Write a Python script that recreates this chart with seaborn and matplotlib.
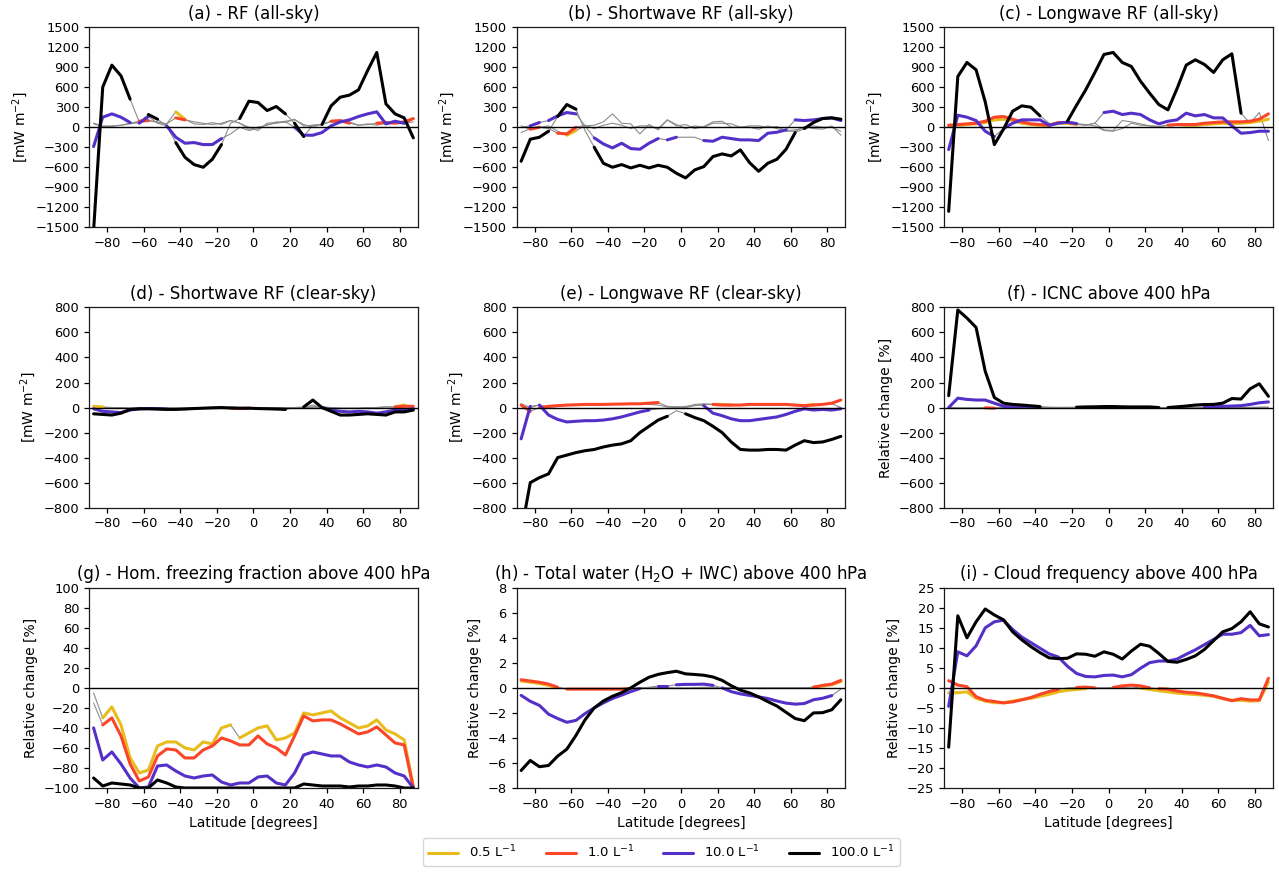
import numpy as np
import matplotlib
matplotlib.use('Agg')
import matplotlib.pyplot as plt
from matplotlib.lines import Line2D
import seaborn as sns

# latitude grid (degrees)
lat = np.arange(-87.5, 88, 5.0)

# (a) RF all-sky
a_05 = [60, 20, 20, 30, 50, 80, 100, 80, 50, 230, 120, 50, 40, 70, 40, 100, 60, 0,
        -50, 60, 70, 90, 110, 40, 0, 50, 80, 70, 80, 30, 50, 30, 60, 60, 50, 120]
a_1 = [50, 10, 10, 30, 60, 90, 100, 70, 50, 140, 110, 80, 60, 40, 60, 100, 60, -30,
       0, 30, 80, 70, 120, 20, 30, 40, 90, 100, 60, 30, 40, 60, 70, 60, 80, 130]
a_10 = [-290, 150, 200, 150, 70, 60, 160, 60, 20, -150, -240, -230, -260, -260, -170, -100, 0, -50,
        -20, 40, 60, 80, 0, -120, -120, -80, 20, 80, 110, 160, 200, 230, 50, 90, 60, 80]
a_100 = [-1550, 600, 930, 770, 420, 80, 190, 120, 20, -230, -450, -560, -600, -480, -260, 60, 130, 390,
         370, 250, 310, 200, 60, -140, 30, 40, 320, 450, 480, 560, 850, 1120, 350, 200, 140, -160]
a_05_sig = [(-41, -39)]
a_1_sig = [(-61, -59), (-41, -39), (44, 51), (70, 88)]
a_10_sig = [(-88, -66), (-61, -59), (-46, -16), (24, 41), (44, 83)]
a_100_sig = [(-88, -66), (-58, -52), (-43, -19), (-8, 19), (24, 26), (40, 88)]

# (b) shortwave RF all-sky
b_05 = [-80, -20, 0, 20, -60, -120, -50, 20, 30, 80, 200, 60, 50, -100, 40, -40, 110, 20,
        40, -20, 10, 80, 90, 0, 0, 0, -30, 20, -20, -60, -60, 10, -20, -30, 20, -120]
b_1 = [20, -30, 0, -20, -90, -100, 0, 30, -20, 30, 60, 30, -20, 20, 20, -20, 110, 40,
       -20, 20, 0, 60, 60, 50, 0, 20, 20, 0, 10, -50, -40, -10, 20, 0, 0, -60]
b_10 = [0, 20, 70, 100, 170, 220, 200, 20, -160, -250, -310, -240, -320, -330, -240, -170, -190, -150,
        -150, -150, -200, -210, -150, -170, -190, -190, -200, -90, -75, -40, 110, 100, 110, 130, 140, 100]
b_100 = [-510, -180, -150, -60, 160, 340, 270, -50, -300, -540, -600, -560, -610, -570, -610, -570, -600, -690,
         -760, -640, -590, -440, -400, -430, -340, -530, -660, -540, -480, -330, -80, -20, 70, 130, 140, 120]
b_05_sig = [(-61, -59)]
b_1_sig = [(-81, -79), (-66, -59)]
b_10_sig = [(-81, -79), (-71, -56), (-49, -11), (-6, -4), (14, 55), (61, 86)]
b_100_sig = [(-88, -74), (-69, -56), (-49, 61), (69, 86)]

# (c) longwave RF all-sky
c_05 = [20, 30, 40, 50, 70, 110, 120, 100, 60, 40, 30, 30, 60, 60, 40, 30, 60, -40,
        -50, 100, 80, 50, 20, 10, 30, 40, 30, 30, 40, 50, 60, 50, 60, 70, 90, 120]
c_1 = [30, 40, 50, 60, 90, 150, 160, 120, 80, 50, 40, 30, 70, 70, 50, 40, 20, -50,
       -60, -20, 60, 30, 20, 10, 30, 40, 40, 40, 60, 70, 80, 80, 80, 90, 120, 200]
c_10 = [-335, 180, 150, 100, -60, -140, -20, 60, 110, 110, 110, 30, 60, 75, 55, 30, 60, 220,
        240, 190, 210, 190, 110, 50, 90, 110, 210, 170, 190, 140, 140, 20, -90, -80, -60, -60]
c_100 = [-1260, 760, 970, 860, 380, -260, -30, 240, 320, 300, 170, 60, 40, 90, 330, 560, 820, 1090,
         1120, 970, 910, 690, 510, 340, 260, 580, 930, 1010, 940, 820, 1010, 1100, 210, 60, 220, -200]
c_05_sig = [(-88, -16), (40, 88)]
c_1_sig = [(-88, -16), (34, 88)]
c_10_sig = [(-88, -61), (-56, -19), (-4, 86)]
c_100_sig = [(-88, -39), (-24, 74)]

# (d) shortwave RF clear-sky
d_05 = [10, 5, 0, 0, -5, -5, -5, -5, -5, -5, -5, -3, -2, -2, 0, -2, -5, -8,
        -5, -3, -2, 0, 0, 0, 5, 5, 0, -5, -5, -5, 0, 0, 5, 5, 20, 10]
d_1 = [5, 0, 0, -3, -5, -5, -5, -5, -5, -5, -5, -3, -2, -2, 0, -5, -8, -5,
       -5, -3, -2, 0, 0, 0, 3, 3, 0, -5, -5, -5, 0, 0, 5, 5, 10, 10]
d_10 = [-10, -30, -35, -40, -20, -10, -8, -10, -12, -12, -10, -8, -5, -3, 0, -3, -5, -5,
        -5, -8, -8, -10, 0, 0, 20, 0, -20, -30, -35, -30, -35, -45, -35, -20, -20, -10]
d_100 = [-50, -55, -60, -45, -15, -10, -10, -12, -15, -15, -12, -8, -5, -2, 0, -3, -5, -5,
         -8, -10, -12, -15, 0, 5, 60, 0, -30, -60, -60, -55, -50, -55, -60, -35, -35, -20]
d_05_sig = [(-88, -84), (78, 82)]
d_1_sig = [(-11, -4), (79, 88)]
d_10_sig = [(-88, -50), (38, 88)]
d_100_sig = [(-88, 16), (29, 88)]

# (e) longwave RF clear-sky
e_05 = [30, 0, 20, 0, 10, 15, 18, 20, 20, 22, 24, 25, 25, 25, 25, 20, 5, 5,
        0, 25, 30, 25, 25, 20, 20, 20, 20, 20, 20, 20, 15, 15, 25, 25, 30, 0]
e_1 = [20, -30, 0, 10, 15, 20, 22, 25, 25, 25, 27, 28, 30, 30, 35, 40, 10, 5,
       0, 15, 25, 25, 20, 20, 20, 25, 25, 25, 25, 25, 20, 15, 20, 25, 35, 60]
e_10 = [-250, 10, 20, -60, -95, -115, -110, -105, -105, -100, -90, -75, -55, -35, -20, -10, -5, 0,
        10, 20, 15, -45, -65, -90, -105, -105, -95, -85, -75, -55, -30, -10, -20, -15, -20, -10]
e_100 = [-1000, -600, -560, -530, -400, -380, -360, -345, -335, -315, -300, -290, -265, -200, -150, -100, -70, -25,
         -50, -80, -105, -150, -200, -275, -335, -340, -340, -335, -335, -340, -300, -265, -280, -275, -255, -230]
e_05_sig = [(19, 26), (69, 71)]
e_1_sig = [(-86, -84), (-76, -14), (19, 88)]
e_10_sig = [(-86, -84), (-76, -19), (14, 86)]
e_100_sig = [(-88, -6), (1, 88)]

# (f) ICNC above 400 hPa
f_05 = [0, -5, -5, -5, -3, -2, -1, 0, 0, 0, 0, 0, 0, 0, 0, 0, 0, 0,
        0, 0, 0, 0, 0, 0, 0, 0, 0, 0, 0, 0, 0, 0, 1, 1, 2, 2]
f_1 = [0, -3, -3, -3, -2, -5, -2, 0, 0, 0, 0, 0, 0, 0, 0, 0, 0, 0,
       0, 0, 0, 0, 0, 0, 0, 0, 0, 0, 0, 0, 0, 0, 1, 1, 2, 3]
f_10 = [0, 75, 65, 60, 60, 35, 10, 5, 3, 2, 1, 0, 0, 0, 0, 1, 1, 2,
        2, 1, 1, 1, 0, 0, 0, 1, 2, 3, 4, 6, 10, 12, 15, 25, 38, 45]
f_100 = [95, 780, 715, 640, 290, 80, 35, 25, 20, 14, 8, 3, 2, 2, 3, 5, 6, 8,
         8, 6, 5, 5, 5, 0, 0, 6, 12, 20, 24, 25, 35, 72, 68, 150, 190, 90]
f_05_sig = []
f_1_sig = [(-66, -64)]
f_10_sig = [(-86, -40), (55, 88)]
f_100_sig = [(-88, -36), (-18, 25), (35, 88)]

# (g) homogeneous freezing fraction above 400 hPa
g_05 = [-5, -30, -19, -37, -70, -85, -82, -58, -54, -54, -60, -62, -54, -56, -40, -37, -50, -45,
        -40, -38, -52, -50, -45, -25, -27, -25, -23, -30, -35, -40, -38, -32, -42, -46, -52, -98]
g_1 = [-15, -37, -30, -48, -76, -93, -89, -68, -61, -62, -70, -70, -62, -58, -50, -53, -57, -57,
       -48, -56, -60, -67, -48, -28, -33, -32, -32, -36, -41, -46, -44, -39, -47, -55, -57, -100]
g_10 = [-40, -72, -64, -76, -90, -100, -99, -78, -77, -83, -88, -90, -88, -87, -94, -97, -95, -95,
        -89, -88, -95, -97, -85, -67, -64, -66, -68, -68, -74, -77, -79, -77, -79, -85, -88, -100]
g_100 = [-90, -98, -95, -96, -97, -100, -100, -92, -95, -99, -100, -100, -100, -100, -100, -100, -100, -100,
         -100, -100, -100, -100, -100, -96, -97, -98, -98, -98, -99, -98, -98, -97, -97, -98, -100, -100]
g_05_sig = [(-84, -11), (-9, 88)]
g_1_sig = [(-84, 88)]
g_10_sig = [(-88, 88)]
g_100_sig = [(-88, 88)]

# (h) total water above 400 hPa
h_05 = [0.55, 0.45, 0.35, 0.2, 0.0, -0.05, -0.05, -0.05, -0.05, -0.05, -0.05, -0.05, 0.0, 0.0, 0.0, 0.0, 0.0, 0.0,
        0.0, 0.0, 0.0, 0.0, 0.0, 0.0, 0.0, 0.0, 0.0, 0.0, 0.0, 0.0, 0.0, 0.0, 0.05, 0.15, 0.25, 0.5]
h_1 = [0.65, 0.55, 0.45, 0.3, 0.05, -0.1, -0.1, -0.1, -0.1, -0.1, -0.1, -0.1, -0.05, 0.0, 0.0, 0.0, 0.0, -0.05,
       -0.05, 0.0, 0.05, 0.05, 0.0, 0.0, 0.0, 0.0, 0.0, 0.0, 0.0, 0.0, 0.0, 0.0, 0.05, 0.2, 0.3, 0.6]
h_10 = [-0.6, -1.07, -1.4, -2.1, -2.45, -2.75, -2.6, -2.05, -1.6, -1.2, -0.85, -0.58, -0.3, -0.05, 0.05, 0.15, 0.15, 0.25,
        0.28, 0.28, 0.3, 0.2, 0.0, -0.3, -0.48, -0.6, -0.72, -0.85, -1.05, -1.22, -1.3, -1.25, -0.95, -0.83, -0.62, -0.1]
h_100 = [-6.6, -5.8, -6.3, -6.2, -5.45, -4.9, -3.8, -2.55, -1.6, -1.05, -0.67, -0.38, 0.0, 0.45, 0.85, 1.08, 1.22, 1.33,
         1.12, 1.07, 1.01, 0.87, 0.6, 0.17, -0.18, -0.4, -0.72, -1.1, -1.45, -1.95, -2.45, -2.62, -2.0, -1.98, -1.75, -0.95]
h_05_sig = [(-88, -70), (73, 88)]
h_1_sig = [(-88, -70), (-63, -26), (73, 88)]
h_10_sig = [(-88, -24), (-11, -9), (-1, 1), (4, 16), (24, 84)]
h_100_sig = [(-88, 88)]

# (i) cloud frequency above 400 hPa
i_05 = [-1.25, -1.2, -1.0, -2.6, -3.3, -3.7, -3.7, -3.3, -2.9, -2.6, -2.1, -1.6, -1.0, -0.6, -0.4, -0.2, 0.0, 0.0,
        0.0, 0.1, 0.2, 0.0, -0.4, -0.7, -1.0, -1.3, -1.5, -1.65, -1.85, -2.1, -2.7, -3.1, -3.1, -3.3, -3.2, 1.5]
i_1 = [1.8, 0.7, 0.3, -2.2, -3.1, -3.4, -3.75, -3.5, -3.0, -2.4, -1.6, -0.9, -0.4, 0.0, 0.1, 0.2, 0.0, -0.1,
       0.1, 0.5, 0.7, 0.5, 0.0, -0.2, -0.3, -0.8, -1.1, -1.25, -1.6, -2.0, -2.6, -3.2, -2.7, -3.0, -3.0, 2.4]
i_10 = [-4.6, 9, 8, 10.5, 15, 16.5, 16.9, 14.6, 12.7, 11.3, 9.9, 8.5, 7.7, 5.4, 3.6, 2.85, 2.75, 3.1,
        3.2, 2.75, 3.3, 4.9, 6.3, 6.7, 6.7, 7.2, 8.4, 9.5, 10.8, 12.1, 13.4, 13.4, 13.8, 15.6, 13, 13.3]
i_100 = [-14.8, 18, 12.5, 16.5, 19.7, 18.2, 17, 14, 12, 10.3, 8.8, 7.5, 7.3, 7.4, 8.5, 8.4, 7.9, 9.0,
         8.4, 7.2, 9.2, 10.9, 10.4, 8.6, 6.6, 6.4, 7.1, 8.0, 9.6, 11.8, 14, 14.8, 16.5, 19, 16, 15.2]
i_05_sig = [(-88, -14), (20, 86)]
i_1_sig = [(-88, -26), (-18, -8), (3, 20), (30, 88)]
i_10_sig = [(-88, 88)]
i_100_sig = [(-88, 88)]

titles = ['(a) - RF (all-sky)', '(b) - Shortwave RF (all-sky)', '(c) - Longwave RF (all-sky)',
          '(d) - Shortwave RF (clear-sky)', '(e) - Longwave RF (clear-sky)', '(f) - ICNC above 400 hPa',
          '(g) - Hom. freezing fraction above 400 hPa', '(h) - Total water (H$_2$O + IWC) above 400 hPa',
          '(i) - Cloud frequency above 400 hPa']
ylabels = ['[mW m$^{-2}$]'] * 5 + ['Relative change [%]'] * 4
ylims = [1500, 1500, 1500, 800, 800, 800, 100, 8, 25]
ysteps = [300, 300, 300, 200, 200, 200, 20, 2, 5]

labels = ['0.5 L$^{-1}$', '1.0 L$^{-1}$', '10.0 L$^{-1}$', '100.0 L$^{-1}$']
colors = ['#E8BC1C', '#FA4528', '#5530C8', 'black']

panels = [
    [(a_05, a_05_sig), (a_1, a_1_sig), (a_10, a_10_sig), (a_100, a_100_sig)],
    [(b_05, b_05_sig), (b_1, b_1_sig), (b_10, b_10_sig), (b_100, b_100_sig)],
    [(c_05, c_05_sig), (c_1, c_1_sig), (c_10, c_10_sig), (c_100, c_100_sig)],
    [(d_05, d_05_sig), (d_1, d_1_sig), (d_10, d_10_sig), (d_100, d_100_sig)],
    [(e_05, e_05_sig), (e_1, e_1_sig), (e_10, e_10_sig), (e_100, e_100_sig)],
    [(f_05, f_05_sig), (f_1, f_1_sig), (f_10, f_10_sig), (f_100, f_100_sig)],
    [(g_05, g_05_sig), (g_1, g_1_sig), (g_10, g_10_sig), (g_100, g_100_sig)],
    [(h_05, h_05_sig), (h_1, h_1_sig), (h_10, h_10_sig), (h_100, h_100_sig)],
    [(i_05, i_05_sig), (i_1, i_1_sig), (i_10, i_10_sig), (i_100, i_100_sig)],
]


def sig_runs(sig):
    '''runs of consecutive segments whose midpoint lies in a significant interval'''
    mid = (lat[:-1] + lat[1:]) / 2
    on = [any(lo <= m <= hi for lo, hi in sig) for m in mid]
    runs = []
    start = None
    for k, flag in enumerate(on):
        if flag and start is None:
            start = k
        if not flag and start is not None:
            runs.append((start, k))
            start = None
    if start is not None:
        runs.append((start, len(on)))
    return runs


sns.set_theme(style='ticks', rc={
    'axes.linewidth': 0.9, 'axes.edgecolor': '#1a1a1a',
    'xtick.major.size': 3.5, 'ytick.major.size': 3.5,
    'xtick.major.width': 0.9, 'ytick.major.width': 0.9,
    'xtick.labelsize': 9.4, 'ytick.labelsize': 9.4,
    'text.color': 'black', 'axes.labelcolor': 'black',
    'xtick.color': 'black', 'ytick.color': 'black',
})
plt.rcParams['font.family'] = ['DejaVu Sans']

fig, axes = plt.subplots(3, 3, figsize=(12.79, 8.74), dpi=100)
fig.subplots_adjust(left=0.0696, right=0.9953, top=0.969, bottom=0.0984, wspace=0.30, hspace=0.40)

for n, ax in enumerate(axes.flat):
    series = panels[n]
    # thin grey lines for the full fields
    for vals, sig in series:
        sns.lineplot(x=lat, y=np.array(vals, float), ax=ax, color='#8c8c8c', linewidth=0.8,
                     estimator=None, sort=False, legend=False)
    # thick coloured where significant
    for (vals, sig), col in zip(series, colors):
        v = np.array(vals, float)
        for s, e in sig_runs(sig):
            sns.lineplot(x=lat[s:e + 1], y=v[s:e + 1], ax=ax, color=col, linewidth=2.2,
                         estimator=None, sort=False, legend=False)
    ax.axhline(0, color='black', linewidth=1.0)
    ax.set_xlim(-90, 90)
    ax.set_xticks(np.arange(-80, 81, 20))
    ym = ylims[n]
    ax.set_ylim(-ym, ym)
    ax.set_yticks(np.arange(-ym, ym + ysteps[n] / 2, ysteps[n]))
    ax.set_title(titles[n], fontsize=12, pad=6)
    ax.set_ylabel(ylabels[n], fontsize=10)
    if n >= 6:
        ax.set_xlabel('Latitude [degrees]', fontsize=10)
    else:
        ax.set_xlabel('')

handles = [Line2D([0], [0], color=c, linewidth=2.2) for c in colors]
fig.legend(handles, labels, loc='lower center', bbox_to_anchor=(0.517, 0.002), ncol=4,
           fontsize=9.5, handlelength=2.3, columnspacing=2.2, frameon=True)

fig.savefig('out.png', dpi=100)
